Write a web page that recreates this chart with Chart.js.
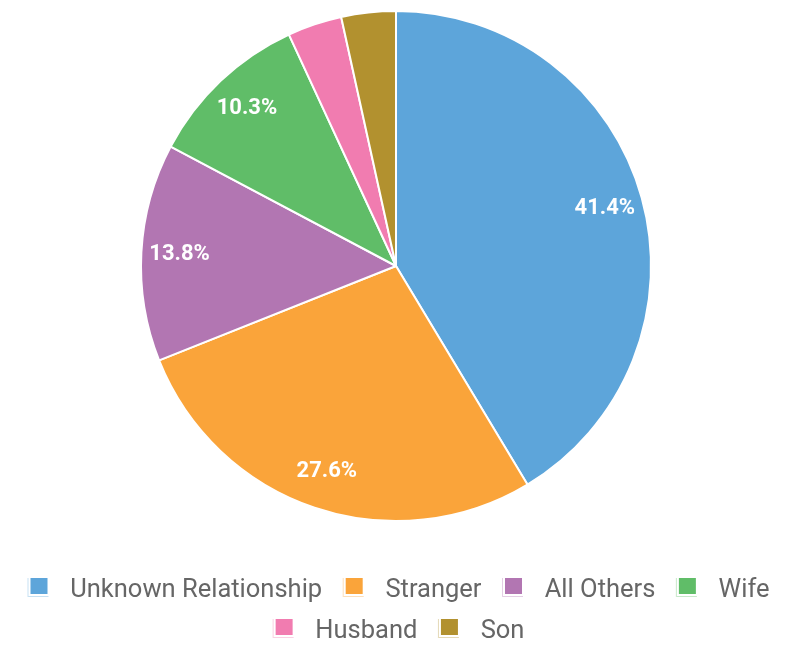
<!DOCTYPE html>
<html>
<head>
<meta charset="utf-8">
<script src="https://cdn.jsdelivr.net/npm/chart.js@4"></script>
<style>
  html, body { margin: 0; padding: 0; background: #ffffff; }
  #wrap { width: 792px; height: 647px; }
</style>
</head>
<body>
<div id="wrap"><canvas id="c" width="792" height="647"></canvas></div>
<script>
const categories = ['Unknown Relationship', 'Stranger', 'All Others', 'Wife', 'Husband', 'Son'];
const counts = [12, 8, 4, 3, 1, 1];
const colors = ['#5DA5DA', '#FAA43A', '#B276B2', '#60BD68', '#F17CB0', '#B2912F'];
const minLabelPct = 5;

function legendSwatch(color) {
  const cv = document.createElement('canvas');
  cv.width = 35; cv.height = 30;
  const g = cv.getContext('2d');
  g.globalAlpha = 0.35;
  g.strokeStyle = color;
  g.lineWidth = 1;
  g.beginPath();
  g.moveTo(5.5, 2);
  g.lineTo(5.5, 20.5);
  g.lineTo(26, 20.5);
  g.stroke();
  g.globalAlpha = 1;
  g.fillStyle = color;
  g.fillRect(8, 2, 17, 16);
  return cv;
}
const swatches = colors.map(legendSwatch);

const pctLabels = {
  id: 'pctLabels',
  afterDatasetsDraw(chart) {
    const ctx = chart.ctx;
    const meta = chart.getDatasetMeta(0);
    const data = chart.data.datasets[0].data;
    const total = data.reduce((a, b) => a + b, 0);
    ctx.save();
    ctx.font = 'bold 22px Roboto';
    ctx.fillStyle = '#ffffff';
    ctx.textAlign = 'center';
    ctx.textBaseline = 'middle';
    meta.data.forEach((arc, i) => {
      const pct = data[i] / total * 100;
      if (pct < minLabelPct) return;
      const p = arc.getProps(['x', 'y', 'startAngle', 'endAngle', 'outerRadius'], true);
      const mid = (p.startAngle + p.endAngle) / 2;
      const r = p.outerRadius * 0.85;
      ctx.fillText(pct.toFixed(1) + '%', p.x + Math.cos(mid) * r, p.y + Math.sin(mid) * r);
    });
    ctx.restore();
  }
};

new Chart(document.getElementById('c'), {
  type: 'pie',
  data: {
    labels: categories,
    datasets: [{
      data: counts,
      backgroundColor: colors,
      borderColor: '#ffffff',
      borderWidth: 2
    }]
  },
  options: {
    responsive: false,
    animation: false,
    layout: { padding: { top: 10, bottom: -7.75, left: 0, right: 0 } },
    plugins: {
      tooltip: { enabled: false },
      legend: {
        position: 'bottom',
        title: { display: true, text: ' ', font: { size: 10, lineHeight: 1.6 }, padding: { top: 12.5, bottom: 12.25 } },
        labels: {
          usePointStyle: true,
          pointStyleWidth: 35,
          padding: 15.5,
          color: '#616c77',
          font: { family: 'Roboto', size: 25.5 },
          generateLabels(chart) {
            return chart.data.labels.map((t, i) => ({
              text: t,
              fillStyle: colors[i],
              strokeStyle: colors[i],
              lineWidth: 0,
              pointStyle: swatches[i],
              hidden: false,
              index: i
            }));
          }
        }
      }
    }
  },
  plugins: [pctLabels]
});
</script>
</body>
</html>
